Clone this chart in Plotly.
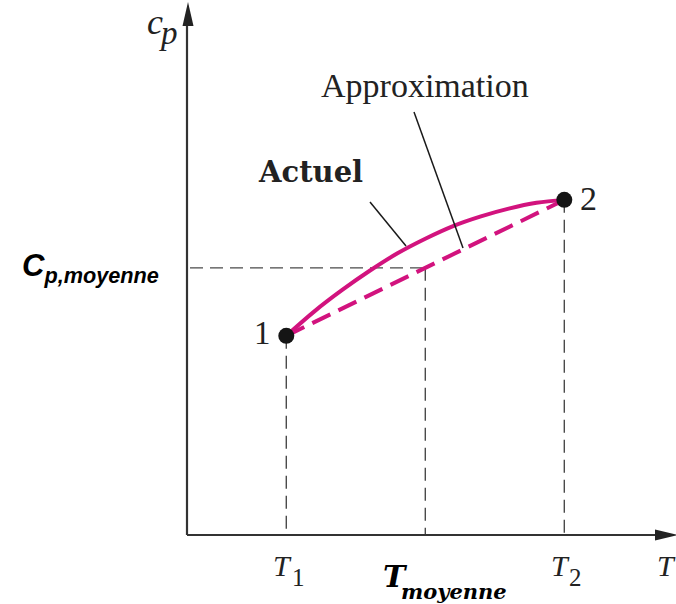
import plotly.graph_objects as go

W, H = 676, 604

# ---- data (arbitrary units) ----
T_points = [1.0, 3.8]            # T1, T2
cp_points = [2.05, 3.45]         # cp at T1, T2
point_labels = ["1", "2"]
T_mean = 2.4
cp_mean = 2.75
actual_T = [1.0, 1.28, 1.56, 1.84, 2.12, 2.40, 2.68, 2.96, 3.24, 3.52, 3.80]
actual_cp = [2.05, 2.30, 2.52, 2.72, 2.90, 3.05, 3.18, 3.28, 3.36, 3.42, 3.45]

# ---- layout helpers (pixel geometry of the figure) ----
X0_PX, Y0_PX = 187, 535
SX, SY = 99.29, 97.14
x_range = [-X0_PX / SX, (W - X0_PX) / SX]
y_range = [-(H - Y0_PX) / SY, Y0_PX / SY]


def px2x(px):
    return (px - X0_PX) / SX


def py2y(py):
    return (Y0_PX - py) / SY


def fx(px):
    return px / W


def fy(py):
    return 1 - py / H


MAGENTA = "#d2137e"
GUIDE = "#4a4a4a"
AXIS = "#333333"

fig = go.Figure()

# guide dashed lines
guide = dict(color=GUIDE, width=1.4, dash="13px,7px")
for t, c in zip(T_points, cp_points):
    fig.add_trace(go.Scatter(x=[t, t], y=[c, 0], mode="lines", line=guide, hoverinfo="skip"))
fig.add_trace(go.Scatter(x=[T_mean, T_mean], y=[cp_mean, 0], mode="lines", line=guide, hoverinfo="skip"))
fig.add_trace(go.Scatter(x=[px2x(190), T_mean], y=[cp_mean, cp_mean], mode="lines", line=guide, hoverinfo="skip"))

# approximation (dashed straight line)
fig.add_trace(go.Scatter(x=T_points, y=cp_points, mode="lines",
                         line=dict(color=MAGENTA, width=4, dash="20px,9px"), hoverinfo="skip"))
# actual curve
fig.add_trace(go.Scatter(x=actual_T, y=actual_cp, mode="lines",
                         line=dict(color=MAGENTA, width=4, shape="spline", smoothing=1.0), hoverinfo="skip"))

# leader lines
leader = dict(color="#1a1a1a", width=1.5)
fig.add_trace(go.Scatter(x=[px2x(414), px2x(463)], y=[py2y(112), py2y(248)], mode="lines",
                         line=leader, hoverinfo="skip"))
fig.add_trace(go.Scatter(x=[px2x(370), px2x(406)], y=[py2y(202), py2y(246)], mode="lines",
                         line=leader, hoverinfo="skip"))

# state points
fig.add_trace(go.Scatter(x=T_points, y=cp_points, mode="markers",
                         marker=dict(color="#151515", size=16), hoverinfo="skip"))

shapes = [
    # axes
    dict(type="line", xref="x", yref="y", x0=0, y0=0, x1=0, y1=py2y(20),
         line=dict(color=AXIS, width=2.2)),
    dict(type="line", xref="x", yref="y", x0=0, y0=0, x1=px2x(662), y1=0,
         line=dict(color=AXIS, width=2.2)),
    # arrowheads
    dict(type="path", xref="paper", yref="paper",
         path=f"M {fx(188)},{fy(2)} L {fx(182.5)},{fy(26)} L {fx(193.5)},{fy(26)} Z",
         fillcolor="#222222", line=dict(width=0)),
    dict(type="path", xref="paper", yref="paper",
         path=f"M {fx(678)},{fy(535)} L {fx(655)},{fy(529.5)} L {fx(655)},{fy(540.5)} Z",
         fillcolor="#222222", line=dict(width=0)),
]

SERIF = "Liberation Serif"
ann = []


def txt(text, px, py, size, family=SERIF, xanchor="center", color="#222222"):
    ann.append(dict(text=text, x=fx(px), y=fy(py), xref="paper", yref="paper",
                    xanchor=xanchor, yanchor="middle", showarrow=False,
                    font=dict(family=family, size=size, color=color)))


txt("Approximation", 425, 86, 34)
txt("<b>Actuel</b>", 310, 172, 29, family="DejaVu Serif")
txt(point_labels[0], 262, 333, 33)
txt(point_labels[1], 588, 199, 34)
# y-axis label c_p
txt("<i>c</i>", 155, 22, 36)
txt("<i>p</i>", 168, 33, 33)
# x tick labels
txt("<i>T</i>", 282, 565, 30)
txt("1", 298, 577, 25)
txt("<i>T</i>", 560, 565, 30)
txt("2", 575, 577, 25)
txt("<i>T</i>", 678, 565, 30, xanchor="right")
# mean labels
txt("<b><i>C<sub>p,moyenne</sub></i></b>", 20, 268, 31, family="Liberation Sans",
    xanchor="left", color="#000000")
txt("<b><i>T</i></b>", 381, 576, 30, family="DejaVu Serif", xanchor="left", color="#000000")
txt("<b><i>moyenne</i></b>", 399, 591, 21, family="DejaVu Serif", xanchor="left", color="#000000")

fig.update_layout(
    width=W, height=H, margin=dict(l=0, r=0, t=0, b=0),
    paper_bgcolor="white", plot_bgcolor="white", showlegend=False,
    xaxis=dict(range=x_range, visible=False, fixedrange=True),
    yaxis=dict(range=y_range, visible=False, fixedrange=True),
    shapes=shapes, annotations=ann,
)

fig.write_html("out.html", config={"displayModeBar": False},
               post_script="document.body.style.margin='0';")
